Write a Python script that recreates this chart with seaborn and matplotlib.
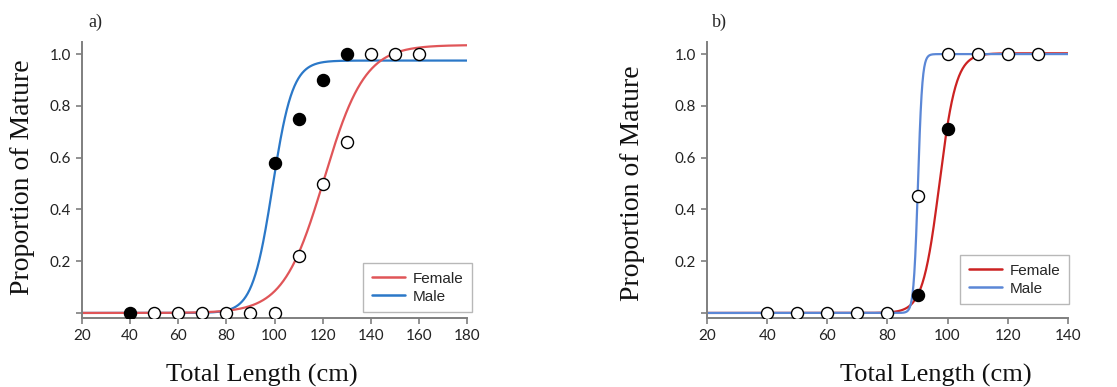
import numpy as np
import pandas as pd
import matplotlib
matplotlib.use("Agg")
import matplotlib.pyplot as plt
import seaborn as sns

# ---- observed proportions of mature fish by length class ----
# panel a
a_male_len = [40, 100, 110, 120, 130]
a_male_prop = [0.0, 0.58, 0.75, 0.90, 1.0]
a_female_len = [50, 60, 70, 80, 90, 100, 110, 120, 130, 140, 150, 160]
a_female_prop = [0.0, 0.0, 0.0, 0.0, 0.0, 0.0, 0.22, 0.50, 0.66, 1.0, 1.0, 1.0]

# panel b
b_female_len = [90, 100]
b_female_prop = [0.07, 0.71]
b_male_len = [40, 50, 60, 70, 80, 90, 100, 110, 120, 130]
b_male_prop = [0.0, 0.0, 0.0, 0.0, 0.0, 0.45, 1.0, 1.0, 1.0, 1.0]

# ---- fitted logistic maturity ogives: [asymptote, L50, slope] ----
a_female_fit = [1.035, 120.6, 0.118]
a_male_fit = [0.975, 99.2, 0.240]
b_female_fit = [1.003, 97.3, 0.360]
b_male_fit = [1.000, 90.15, 1.40]

a_xlim = [20, 180]
b_xlim = [20, 140]
a_xticks = [20, 40, 60, 80, 100, 120, 140, 160, 180]
b_xticks = [20, 40, 60, 80, 100, 120, 140]
yticks = [0.0, 0.2, 0.4, 0.6, 0.8, 1.0]
ytick_labels = ["", "0.2", "0.4", "0.6", "0.8", "1.0"]
series_names = ["Female", "Male"]

sns.set_style("ticks")
plt.rcParams["font.family"] = ["DejaVu Sans"]

SPINE = "#7f7f7f"
SERIF = "Liberation Serif"
TICKFONT = "Lato"


def ogive(x, params):
    asym, l50, k = params
    return asym / (1.0 + np.exp(-k * (x - l50)))


def curve_frame(xlim, params, name):
    x = np.linspace(xlim[0], xlim[1], 800)
    return pd.DataFrame({"length": x, "prop": ogive(x, params), "sex": name})


def style_axes(ax, xlim, xticks):
    ax.set_xlim(xlim)
    ax.set_ylim(-0.02, 1.046)
    ax.set_xticks(xticks)
    ax.set_xticklabels([str(v) for v in xticks], fontfamily=TICKFONT, fontsize=11)
    ax.set_yticks(yticks)
    ax.set_yticklabels(ytick_labels, fontfamily=TICKFONT, fontsize=11)
    for side in ("top", "right"):
        ax.spines[side].set_visible(False)
    for side in ("left", "bottom"):
        ax.spines[side].set_color(SPINE)
        ax.spines[side].set_linewidth(1.4)
    ax.tick_params(axis="both", colors=SPINE, length=4, width=1.2,
                   labelcolor="#222222", pad=4)
    ax.set_xlabel("Total Length (cm)", fontfamily=SERIF, fontsize=19, color="#111111")
    ax.set_ylabel("Proportion of Mature", fontfamily=SERIF, fontsize=20, color="#111111")


def points(ax, xs, ys, filled):
    df = pd.DataFrame({"length": xs, "prop": ys})
    sns.scatterplot(data=df, x="length", y="prop", ax=ax, s=75,
                    color="black" if filled else "white",
                    edgecolor="black", linewidth=1.0, zorder=5, legend=False)


fig = plt.figure(figsize=(11.17, 3.87), dpi=100)
ax_a = fig.add_axes([0.0734, 0.178, 0.3447, 0.713])
ax_b = fig.add_axes([0.633, 0.178, 0.323, 0.713])

# ---- panel a ----
red_a, blue_a = "#e05558", "#2b78c8"
curves_a = pd.concat([curve_frame(a_xlim, a_male_fit, "Male"),
                      curve_frame(a_xlim, a_female_fit, "Female")])
sns.lineplot(data=curves_a, x="length", y="prop", hue="sex",
             hue_order=["Male", "Female"],
             palette={"Female": red_a, "Male": blue_a},
             linewidth=1.6, ax=ax_a, legend=False)
points(ax_a, a_female_len, a_female_prop, filled=False)
points(ax_a, a_male_len, a_male_prop, filled=True)
style_axes(ax_a, a_xlim, a_xticks)

# ---- panel b ----
red_b, blue_b = "#cc2222", "#5b87d6"
curves_b = pd.concat([curve_frame(b_xlim, b_female_fit, "Female"),
                      curve_frame(b_xlim, b_male_fit, "Male")])
sns.lineplot(data=curves_b, x="length", y="prop", hue="sex",
             hue_order=["Female", "Male"],
             palette={"Female": red_b, "Male": blue_b},
             linewidth=1.6, ax=ax_b, legend=False)
points(ax_b, b_male_len, b_male_prop, filled=False)
points(ax_b, b_female_len, b_female_prop, filled=True)
style_axes(ax_b, b_xlim, b_xticks)


def add_legend(ax, colors, anchor):
    handles = [plt.Line2D([], [], color=c, linewidth=1.8) for c in colors]
    leg = ax.legend(handles, series_names, loc="lower right", bbox_to_anchor=anchor,
                    frameon=True, fancybox=False, edgecolor="#a6a6a6",
                    prop={"family": "Liberation Sans", "size": 11},
                    handlelength=2.2, handletextpad=0.5, labelspacing=0.25,
                    borderpad=0.55, borderaxespad=0.0)
    leg.get_frame().set_linewidth(1.0)


add_legend(ax_a, [red_a, blue_a], (1.013, 0.022))
add_legend(ax_b, [red_b, blue_b], (1.003, 0.051))

# label positions
ax_a.xaxis.set_label_coords(0.4675, -0.165)
ax_b.xaxis.set_label_coords(0.634, -0.165)
ax_a.yaxis.set_label_coords(-0.122, 0.51)
ax_b.yaxis.set_label_coords(-0.172, 0.49)

fig.text(88 / 1117, 1 - 22 / 387, "a)", fontfamily=SERIF, fontsize=13, va="center")
fig.text(712 / 1117, 1 - 22 / 387, "b)", fontfamily=SERIF, fontsize=13, va="center")

fig.savefig("out.png", dpi=100, facecolor="white")
